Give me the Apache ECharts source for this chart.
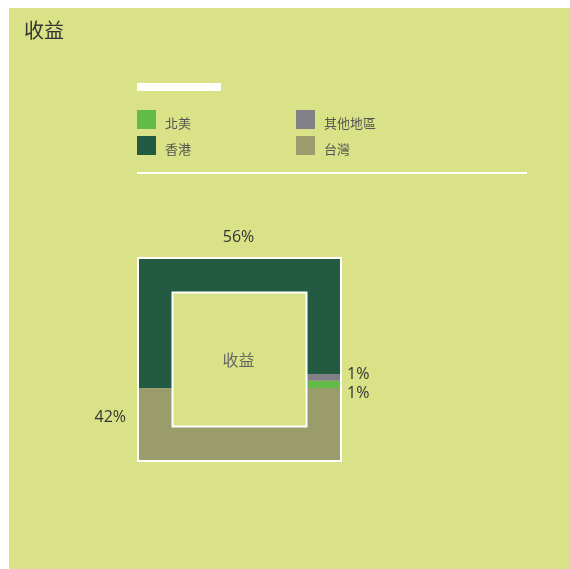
<!DOCTYPE html>
<html><head><meta charset="utf-8">
<script src="https://cdn.jsdelivr.net/npm/echarts@6/dist/echarts.min.js"></script>
<style>
html,body{margin:0;padding:0;background:#fff;width:570px;height:569px;overflow:hidden}
#bg{position:absolute;left:9px;top:8px;width:561px;height:561px;background:#dae287}
#chart{position:absolute;left:0;top:0;width:570px;height:569px}
</style></head>
<body><div id="bg"></div><div id="chart"></div>
<script>
// ---- data ----
const categories = ['北美', '其他地區', '香港', '台灣'];
const values = [1.1, 1.0, 56.4, 41.5];
const colors = ['#62bb46', '#808086', '#235a42', '#9b9c6b'];
const titleText = '收益';
const centerText = '收益';

// ---- layout ----
const CX = 239.5, CY = 359.5;
const OUTER = 101.5, INNER = 67;
const M = (OUTER + INNER) / 2;      // midline half size
const W = OUTER - INNER;            // ring width
const L = 8 * M;                    // midline perimeter
const START = 0.9576;               // start fraction, counter-clockwise from right-middle
const labelSide = ['right', 'right', 'top', 'left'];
const FONT = '"Open Sans", "Noto Sans CJK TC", sans-serif';

const total = values.reduce((a, b) => a + b, 0);
const segs = [];
{
  let d = START * L;
  values.forEach(v => { const len = v / total * L; segs.push([d, d + len]); d += len; });
}
function P(d) {
  d = ((d % L) + L) % L;
  if (d <= M) return [CX + M, CY - d];
  if (d <= 3 * M) return [CX + M - (d - M), CY - M];
  if (d <= 5 * M) return [CX - M, CY - M + (d - 3 * M)];
  if (d <= 7 * M) return [CX - M + (d - 5 * M), CY + M];
  return [CX + M, CY + M - (d - 7 * M)];
}
function pathPoints(d0, d1) {
  const pts = [P(d0)];
  for (let k = -1; k < 20; k++) {
    const c = M + 2 * M * k;
    if (c > d0 && c < d1) pts.push(P(c));
  }
  pts.push(P(d1));
  return pts;
}
const sideRange = { right: [-M, M], top: [M, 3 * M], left: [3 * M, 5 * M] };
function sideMid(i) {
  const [d0, d1] = segs[i];
  const r = sideRange[labelSide[i]];
  for (let k = -1; k <= 2; k++) {
    const a = Math.max(d0, r[0] + k * L), b = Math.min(d1, r[1] + k * L);
    if (b > a) return P((a + b) / 2);
  }
  return P((d0 + d1) / 2);
}
// label positions with simple anti-overlap on the sides
const labelPos = segs.map((s, i) => {
  const p = sideMid(i);
  if (labelSide[i] === 'top') return { x: p[0] - 1, y: CY - OUTER - 21, align: 'center' };
  if (labelSide[i] === 'left') return { x: CX - OUTER - 12, y: p[1] + 1.5, align: 'right' };
  return { x: CX + OUTER + 6, y: p[1], align: 'left' };
});
['left', 'right'].forEach(side => {
  const idx = labelPos.map((l, i) => i).filter(i => labelSide[i] === side);
  if (idx.length < 2) return;
  idx.sort((a, b) => labelPos[a].y - labelPos[b].y);
  const gap = 19;
  const mean = idx.reduce((s, i) => s + labelPos[i].y, 0) / idx.length;
  idx.forEach((i, k) => { labelPos[i].y = mean + 3.5 + (k - (idx.length - 1) / 2) * gap; });
});

function renderItem(params, api) {
  const i = params.seriesIndex;
  const v = api.value(0);
  const d0 = segs[i][0];
  const d1 = d0 + v / total * L;
  const pct = Math.round(v / total * 100) + '%';
  const lp = labelPos[i];
  return {
    type: 'group',
    children: [
      { type: 'polyline', shape: { points: pathPoints(d0, d1) },
        style: { stroke: api.visual('color'), lineWidth: W, fill: null, lineJoin: 'miter', lineCap: 'butt' } },
      { type: 'text', x: lp.x, y: lp.y,
        style: { text: pct, fill: '#333', font: '16px ' + FONT, align: lp.align, verticalAlign: 'middle' } }
    ]
  };
}

const chart = echarts.init(document.getElementById('chart'), null, { renderer: 'canvas' });
const legendCommon = {
  orient: 'vertical', icon: 'rect', itemWidth: 19, itemHeight: 19, itemGap: 3, padding: 0,
  selectedMode: false,
  formatter: name => '{t|' + name + '}',
  textStyle: { fontSize: 13, color: '#555', fontFamily: FONT,
    rich: { t: { fontSize: 13, lineHeight: 13, color: '#555', fontFamily: FONT, padding: [10, 0, 0, 4] } } }
};
chart.setOption({
  animation: false,
  backgroundColor: 'transparent',
  title: { text: titleText, left: 24, top: 22, padding: 0,
    textStyle: { fontSize: 20, fontWeight: 'normal', color: '#333', fontFamily: FONT } },
  legend: [
    Object.assign({ left: 137, top: 108, data: [categories[0], categories[2]] }, legendCommon),
    Object.assign({ left: 296, top: 108, data: [categories[1], categories[3]] }, legendCommon)
  ],
  series: categories.map((c, i) => ({
    type: 'custom', name: c, coordinateSystem: 'none',
    itemStyle: { color: colors[i] },
    renderItem: renderItem,
    data: [[values[i]]]
  })),
  graphic: [
    { type: 'rect', z: 100, shape: { x: 137, y: 83, width: 84, height: 8 }, style: { fill: '#fff' } },
    { type: 'rect', z: 100, shape: { x: 137, y: 172, width: 390, height: 2 }, style: { fill: '#fff' } },
    { type: 'rect', z: 100, shape: { x: CX - OUTER, y: CY - OUTER, width: 2 * OUTER, height: 2 * OUTER },
      style: { fill: null, stroke: '#fff', lineWidth: 2 } },
    { type: 'rect', z: 100, shape: { x: CX - INNER, y: CY - INNER, width: 2 * INNER, height: 2 * INNER },
      style: { fill: null, stroke: '#fff', lineWidth: 2 } },
    { type: 'text', z: 100, x: CX - 1, y: CY + 2, style: { text: centerText, fill: '#666', font: '16px ' + FONT,
      align: 'center', verticalAlign: 'middle' } }
  ]
});
</script></body></html>
